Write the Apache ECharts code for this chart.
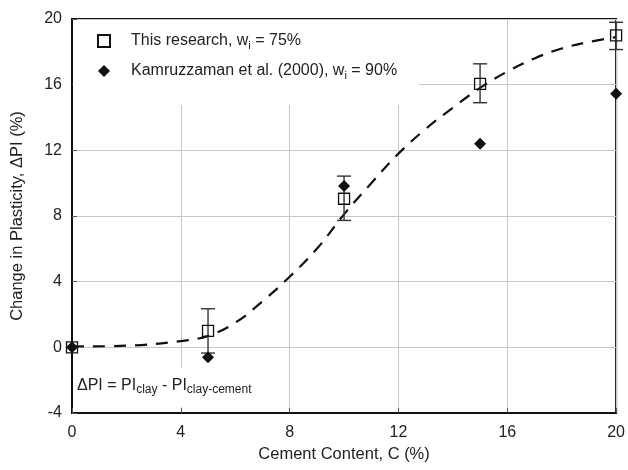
<!DOCTYPE html>
<html>
<head>
<meta charset="utf-8">
<script src="https://cdn.jsdelivr.net/npm/echarts@6/dist/echarts.min.js"></script>
<style>
  html, body { margin: 0; padding: 0; background: #fff; }
  #main { width: 628px; height: 470px; }
</style>
</head>
<body>
<div id="main"></div>
<script>
// cement content (%)
let cement = [0, 5, 10, 15, 20];
// this research, wi = 75%
let research = [0, 1.0, 9.05, 16.05, 19.0];
let errLow = [0, -0.35, 7.73, 14.9, 18.14];
let errHigh = [0, 2.35, 10.43, 17.27, 19.8];
// Kamruzzaman et al. (2000), wi = 90%
let kamru = [0, -0.6, 9.82, 12.4, 15.44];
// dashed trend curve
let curveX = [0, 2, 4, 5, 6, 7, 8, 9, 10, 11, 12, 13, 14, 15, 16, 17, 18, 19, 20];
let curveY = [0.05, 0.1, 0.38, 0.7, 1.5, 2.8, 4.3, 6.0, 8.1, 10.0, 11.8, 13.3, 14.6, 15.8, 16.8, 17.6, 18.2, 18.6, 18.9];

let xTicks = [0, 4, 8, 12, 16, 20];
let yTicks = [-4, 0, 4, 8, 12, 16, 20];

let font = 'Liberation Sans, Arial, sans-serif';
let chart = echarts.init(document.getElementById('main'));

let nameA = 'This research, wi = 75%';
let nameB = 'Kamruzzaman et al. (2000), wi = 90%';

let option = {
    backgroundColor: '#fff',
    animation: false,
    textStyle: { fontFamily: font, color: '#222' },
    grid: {
        left: 72, right: 8, top: 19, bottom: 57,
        show: true, borderColor: '#111', borderWidth: 2, backgroundColor: 'transparent'
    },
    legend: {
        left: 73, top: 20,
        orient: 'vertical',
        backgroundColor: '#fff',
        padding: [13, 22, 24, 24],
        itemWidth: 12, itemHeight: 12, itemGap: 12,
        data: [nameA, nameB],
        formatter: function (n) {
            let p = n.split('wi');
            return '{t|' + p[0] + 'w}{s|i}{t|' + p[1] + '}';
        },
        textStyle: {
            padding: [0, 0, 0, 16],
            rich: {
                t: { fontSize: 16, fontFamily: font, color: '#222' },
                s: { fontSize: 11, fontFamily: font, color: '#222', padding: [9, 0, 0, 0] }
            }
        }
    },
    xAxis: {
        type: 'value', min: 0, max: 20, interval: 4,
        name: 'Cement Content, C (%)', nameLocation: 'middle', nameGap: 33,
        nameTextStyle: { fontSize: 16.5, color: '#222' },
        axisLine: { show: true, onZero: false, lineStyle: { color: '#111', width: 2 } },
        axisTick: { inside: true, length: 5, lineStyle: { color: '#555' } },
        axisLabel: { fontSize: 16, color: '#222', margin: 12, formatter: v => xTicks.includes(v) ? String(v) : '' },
        splitLine: { lineStyle: { color: '#c8c8c8', width: 1 } }
    },
    yAxis: {
        type: 'value', min: -4, max: 20, interval: 4,
        name: 'Change in Plasticity, ΔPI (%)', nameLocation: 'middle', nameGap: 46,
        nameTextStyle: { fontSize: 16.5, color: '#222' },
        axisLine: { show: true, onZero: false, lineStyle: { color: '#111', width: 2 } },
        axisTick: { inside: true, length: 5, lineStyle: { color: '#555' } },
        axisLabel: { fontSize: 16, color: '#222', margin: 10, formatter: v => yTicks.includes(v) ? String(v) : '' },
        splitLine: { lineStyle: { color: '#c8c8c8', width: 1 } }
    },
    graphic: [{
        type: 'text',
        left: 73, top: 368, z: 50,
        style: {
            text: '{t|ΔPI = PI}{s|clay}{t| - PI}{s|clay-cement}',
            backgroundColor: '#fff',
            padding: [8, 4, 11, 4],
            rich: {
                t: { fontSize: 16, fontFamily: font, fill: '#222' },
                s: { fontSize: 12, fontFamily: font, fill: '#222', padding: [8, 0, 0, 0] }
            }
        }
    }],
    series: [
        {
            name: 'curve', type: 'line', smooth: 0.4, symbol: 'none',
            data: curveX.map((x, i) => [x, curveY[i]]),
            lineStyle: { color: '#111', width: 2.2, type: [12, 9] },
            z: 3, silent: true
        },
        {
            name: 'err', type: 'custom', z: 4,
            data: cement.map((x, i) => [x, errLow[i], errHigh[i]]).filter(d => d[2] > d[1]),
            renderItem: function (params, api) {
                let lo = api.coord([api.value(0), api.value(1)]);
                let hi = api.coord([api.value(0), api.value(2)]);
                let w = 7;
                let st = { stroke: '#333', lineWidth: 1.4 };
                return {
                    type: 'group',
                    children: [
                        { type: 'line', shape: { x1: lo[0], y1: lo[1], x2: hi[0], y2: hi[1] }, style: st },
                        { type: 'line', shape: { x1: lo[0] - w, y1: lo[1], x2: lo[0] + w, y2: lo[1] }, style: st },
                        { type: 'line', shape: { x1: hi[0] - w, y1: hi[1], x2: hi[0] + w, y2: hi[1] }, style: st }
                    ]
                };
            }
        },
        {
            name: nameB, type: 'scatter', symbol: 'diamond', symbolSize: 12,
            data: cement.map((x, i) => [x, kamru[i]]),
            itemStyle: { color: '#111', opacity: 1 }, z: 5
        },
        {
            name: nameA, type: 'scatter', symbol: 'rect', symbolSize: 11,
            data: cement.map((x, i) => [x, research[i]]),
            itemStyle: { color: 'rgba(255,255,255,0)', borderColor: '#111', borderWidth: 1.3, opacity: 1 }, z: 6
        }
    ]
};

chart.setOption(option);
</script>
</body>
</html>
